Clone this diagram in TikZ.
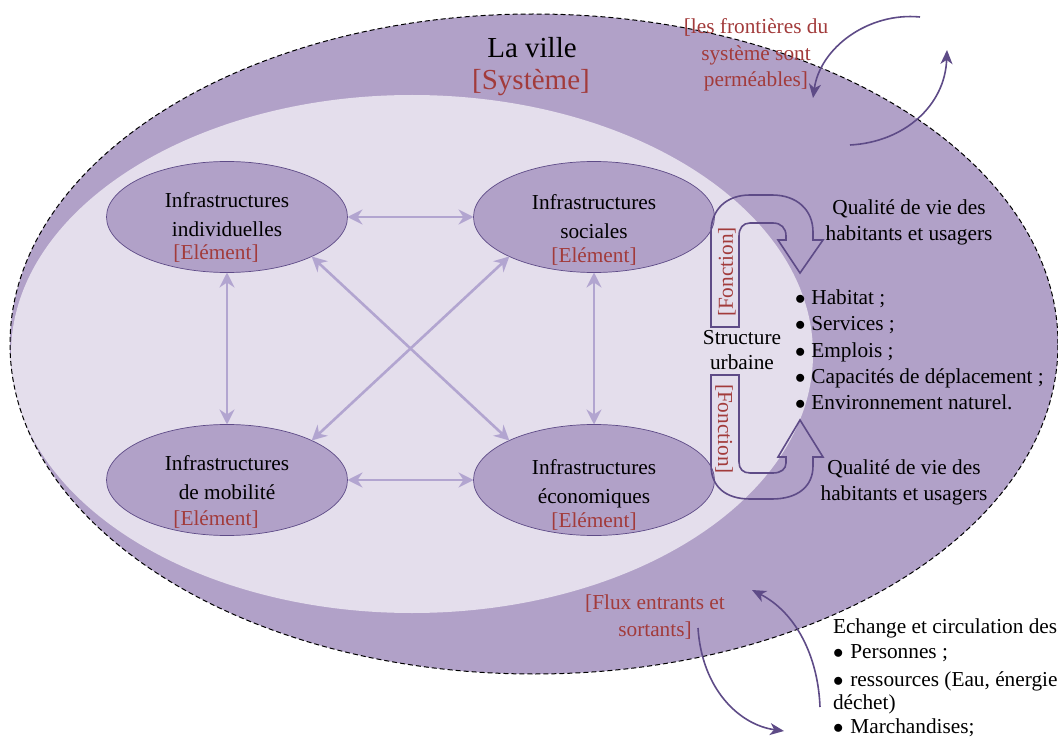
\documentclass[tikz,border=0pt]{standalone}
\usepackage{fontspec}
\setmainfont{Liberation Serif}
\usetikzlibrary{shapes.geometric,arrows.meta}
\definecolor{band}{HTML}{B1A1C8}
\definecolor{core}{HTML}{E4DEEC}
\definecolor{edge}{HTML}{5E4B87}
\definecolor{link}{HTML}{B2A5D0}
\definecolor{tag}{HTML}{A23B3B}
\newcommand{\itemdot}{$\bullet$}
\begin{document}
\begin{tikzpicture}[x=1pt, y=-1pt,
  every node/.style={inner sep=0pt, outer sep=0pt},
  txt/.style={font=\fontsize{21.3}{28.5}\selectfont, align=center},
  tagtxt/.style={txt, text=tag},
  elem/.style={ellipse, draw=edge, line width=0.7pt, fill=band,
    minimum width=241pt, minimum height=111pt},
  link/.style={draw=link, line width=2.6pt,
    {Stealth[length=15pt,width=15pt,inset=5pt]}-{Stealth[length=15pt,width=15pt,inset=5pt]}},
  flow/.style={draw=edge, line width=1.6pt, -{Stealth[length=14pt,width=12pt,inset=4pt]}},
  uturn/.style={draw=edge, line width=1.6pt},
]
\useasboundingbox (0,0) rectangle (1058,738);
\clip (0,0) rectangle (1058,738);

% the city (system) and its inner core
\fill[band] (534,344) ellipse [x radius=524pt, y radius=330pt];
\fill[core] (412,354) ellipse [x radius=401pt, y radius=259pt];
\draw[black, line width=1pt, dash pattern=on 5pt off 3pt]
  (534,344) ellipse [x radius=524pt, y radius=330pt];

% title
\node[font=\fontsize{29}{34}\selectfont, anchor=base] (title) at (532,58) {La ville};
\node[font=\fontsize{29}{34}\selectfont, text=tag, anchor=base] (systeme) at (531,90) {[Système]};

% elements
\node[elem] (tl) at (227,217) {};
\node[elem] (tr) at (594,217) {};
\node[elem] (bl) at (227,480) {};
\node[elem] (br) at (594,480) {};

\node[txt] (tlt) at (227,227.5) {Infrastructures\\individuelles\\[-5pt]\textcolor{tag}{[Elément]}\rule{22pt}{0pt}};
\node[txt] (trt) at (594,230) {Infrastructures\\sociales\\[-4pt]\textcolor{tag}{[Elément]}};
\node[txt] (blt) at (227,492) {Infrastructures\\de mobilité\\[-2pt]\textcolor{tag}{[Elément]}\rule{22pt}{0pt}};
\node[txt] (brt) at (594,495) {Infrastructures\\économiques\\[-4pt]\textcolor{tag}{[Elément]}};

% links between elements
\draw[link] (tl) -- (tr);
\draw[link] (bl) -- (br);
\draw[link] (tl) -- (bl);
\draw[link] (tr) -- (br);
\draw[link] (tl.-25) -- (br.155);
\draw[link] (tr.205) -- (bl.25);

% function u-turn arrows
\draw[uturn] (711,327) -- (711,232) .. controls (711,210) and (726,195) .. (750,195)
  -- (772,195) .. controls (797,195) and (813,210) .. (813,232) -- (813,240)
  -- (823,240) -- (800,273) -- (778,240) -- (786,240) -- (786,236)
  .. controls (786,228) and (781,223) .. (773,223) -- (750,223)
  .. controls (743,223) and (739,228) .. (739,236) -- (739,327) -- cycle;
\draw[uturn] (711,375) -- (711,465) .. controls (711,487) and (726,499) .. (750,499)
  -- (772,499) .. controls (797,499) and (813,487) .. (813,466) -- (813,457)
  -- (823,457) -- (800,420) -- (778,457) -- (786,457) -- (786,463)
  .. controls (786,469) and (781,473) .. (773,473) -- (750,473)
  .. controls (743,473) and (739,469) .. (739,462) -- (739,375) -- cycle;

\node[tagtxt, rotate=90] (fct1) at (727,272) {[Fonction]};
\node[tagtxt, rotate=-90] (fct2) at (724,429) {[Fonction]};

\node[txt, font=\fontsize{21.3}{25}\selectfont] (struct) at (742,350.5) {Structure\\urbaine};

% qualities
\node[txt, font=\fontsize{21.3}{26}\selectfont] (qual1) at (909,222) {Qualité de vie des\\habitants et usagers};
\node[txt, font=\fontsize{21.3}{26}\selectfont] (qual2) at (904,482) {Qualité de vie des\\habitants et usagers};

\node[txt, font=\fontsize{21.3}{26.25}\selectfont, align=left, anchor=west] (list) at (795,350)
  {\itemdot\hspace{6pt}Habitat ;\\
   \itemdot\hspace{6pt}Services ;\\
   \itemdot\hspace{6pt}Emplois ;\\
   \itemdot\hspace{6pt}Capacités de déplacement ;\\
   \itemdot\hspace{6pt}Environnement naturel.};

% permeable boundary
\node[tagtxt, font=\fontsize{21.3}{26.5}\selectfont] (perm) at (756,55)
  {[les frontières du\\système sont\\perméables]};
\coordinate (pin1) at (920,17);
\coordinate (pout1) at (813,98);
\coordinate (pin2) at (850,145);
\coordinate (pout2) at (947,50);
\draw[flow] (pin1) .. controls (868,12) and (820,48) .. (pout1);
\draw[flow] (pin2) .. controls (905,142) and (945,105) .. (pout2);

% flows in and out
\node[tagtxt, font=\fontsize{21.3}{27}\selectfont] (flux) at (655,617.5)
  {[Flux entrants et\\sortants]};
\coordinate (fin1) at (698,628);
\coordinate (fout1) at (784,731);
\coordinate (fin2) at (820,707);
\coordinate (fout2) at (752,590);
\draw[flow] (fin1) .. controls (702,690) and (740,725) .. (fout1);
\draw[flow] (fin2) .. controls (818,655) and (795,612) .. (fout2);

\node[txt, anchor=base west] (ex0) at (833,633) {Echange et circulation des};
\node[txt, anchor=base west] (ex1) at (833,658) {\itemdot\hspace{7pt}Personnes ;};
\node[txt, anchor=base west] (ex2) at (833,686) {\itemdot\hspace{7pt}ressources (Eau, énergie};
\node[txt, anchor=base west] (ex3) at (833,709) {déchet)};
\node[txt, anchor=base west] (ex4) at (833,733) {\itemdot\hspace{7pt}Marchandises;};
\end{tikzpicture}
\end{document}
